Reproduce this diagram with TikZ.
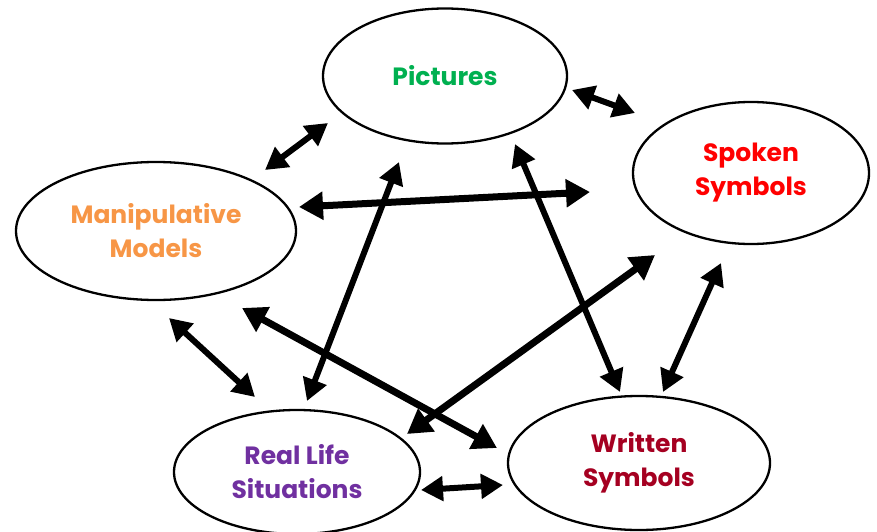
\documentclass[tikz,border=0pt]{standalone}
\usepackage{fontspec}
\setmainfont{Poppins}
\usetikzlibrary{shapes.geometric,arrows.meta}
\definecolor{cpic}{HTML}{00B050}
\definecolor{cspo}{HTML}{FF0000}
\definecolor{cman}{HTML}{F79646}
\definecolor{creal}{HTML}{7030A0}
\definecolor{cwri}{HTML}{A50021}
\tikzset{
  bubble/.style={ellipse, draw=black, line width=2.3pt, inner sep=0pt, align=center,
    font=\fontsize{25}{34}\selectfont\bfseries},
  link/.style={line width=6pt, {Triangle[length=22pt,width=24pt]}-{Triangle[length=22pt,width=24pt]}},
  biglink/.style={line width=7pt, {Triangle[length=24pt,width=27pt]}-{Triangle[length=24pt,width=27pt]}}
}
\begin{document}
\begin{tikzpicture}[x=1pt,y=-1pt]
\useasboundingbox (0,0) rectangle (877,532);
\node[bubble, minimum width=244pt, minimum height=135pt, text=cpic] (pic) at (445,76) {Pictures};
\node[bubble, minimum width=236pt, minimum height=142pt, text=cspo] (spo) at (751,173) {Spoken\\Symbols};
\node[bubble, minimum width=280pt, minimum height=138pt, text=cman] (man) at (156,231) {Manipulative\\Models};
\node[bubble, minimum width=246pt, minimum height=124pt, text=creal] (real) at (297,472) {Real Life\\Situations};
\node[bubble, minimum width=262pt, minimum height=134pt, text=cwri] (wri) at (639,463) {Written\\Symbols};

\coordinate (ps1) at (572,90);  \coordinate (ps2) at (635,113);
\coordinate (mp1) at (265,170); \coordinate (mp2) at (328,123);
\coordinate (ms1) at (299,207); \coordinate (ms2) at (590,192);
\coordinate (rp1) at (307,401); \coordinate (rp2) at (399,162);
\coordinate (pw1) at (515,144); \coordinate (pw2) at (620,392);
\coordinate (rs1) at (407,434); \coordinate (rs2) at (655,255);
\coordinate (sw1) at (721,263); \coordinate (sw2) at (663,392);
\coordinate (mr1) at (169,318); \coordinate (mr2) at (255,397);
\coordinate (mw1) at (242,308); \coordinate (mw2) at (497,448);
\coordinate (rw1) at (421,490); \coordinate (rw2) at (503,485);

\draw[link] (ps1) -- (ps2);
\draw[link] (mp1) -- (mp2);
\draw[biglink] (ms1) -- (ms2);
\draw[link] (rp1) -- (rp2);
\draw[link] (pw1) -- (pw2);
\draw[biglink] (rs1) -- (rs2);
\draw[link] (sw1) -- (sw2);
\draw[link] (mr1) -- (mr2);
\draw[biglink] (mw1) -- (mw2);
\draw[link] (rw1) -- (rw2);
\end{tikzpicture}
\end{document}
